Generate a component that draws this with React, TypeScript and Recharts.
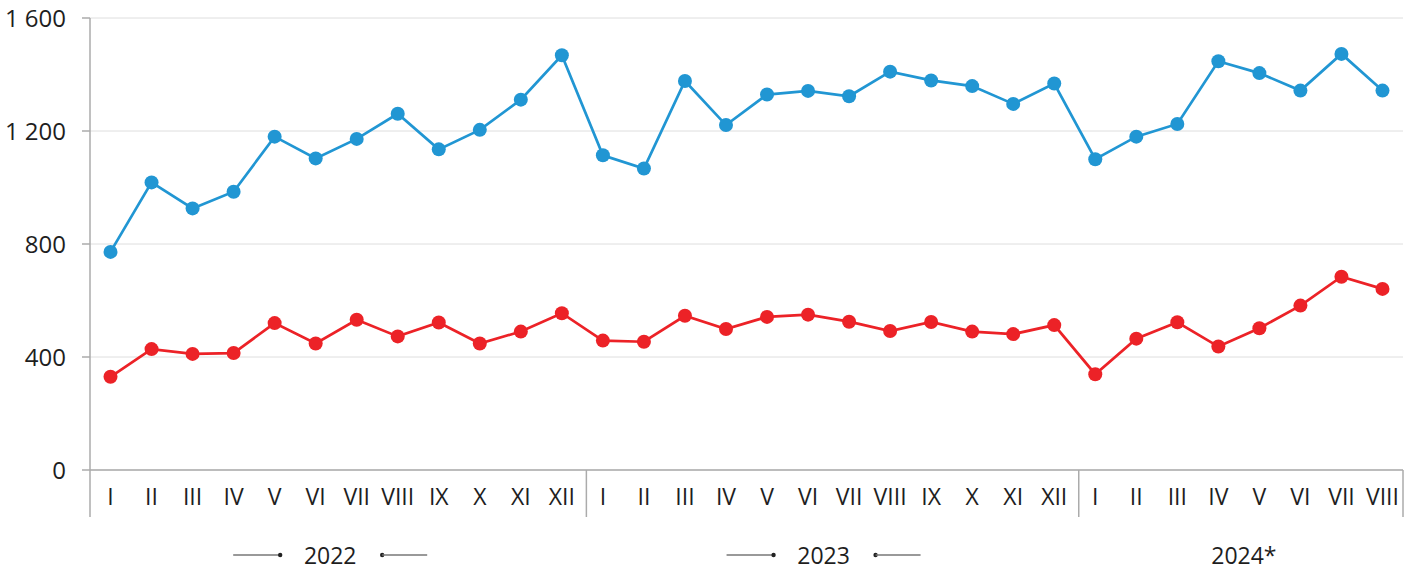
import React from 'react';
import { LineChart, Line, XAxis, YAxis, CartesianGrid } from 'recharts';

const years = ['2022', '2023', '2024*'];
const monthsPerYear = [12, 12, 8];
const yearDecorated = [true, true, false];
const romanMonths = ['I', 'II', 'III', 'IV', 'V', 'VI', 'VII', 'VIII', 'IX', 'X', 'XI', 'XII'];

const blueValues = [
  772, 1018, 926, 985, 1180, 1103, 1172, 1261, 1135, 1204, 1311, 1468,
  1114, 1067, 1377, 1221, 1329, 1342, 1323, 1410, 1379, 1359, 1296, 1368,
  1100, 1180, 1225, 1447, 1405, 1343, 1473, 1343,
];
const redValues = [
  330, 428, 411, 414, 520, 448, 532, 473, 522, 448, 490, 555,
  458, 454, 546, 499, 542, 550, 525, 492, 524, 490, 481, 513,
  339, 465, 523, 437, 502, 582, 684, 641,
];
const yTicks = [0, 400, 800, 1200, 1600];

const BLUE = '#2196D3';
const RED = '#EC2227';
const AXIS = '#ababab';
const TEXT = '#1e1e1e';

type Row = { key: string; month: string; yearIdx: number; blue: number; red: number };
const rows: Row[] = [];
const groupStart: number[] = [];
{
  let k = 0;
  years.forEach((y, yi) => {
    groupStart.push(k);
    for (let m = 0; m < monthsPerYear[yi]; m++) {
      rows.push({ key: `${y}-${m}`, month: romanMonths[m], yearIdx: yi, blue: blueValues[k], red: redValues[k] });
      k++;
    }
  });
}

const W = 1414;
const H = 571;
const M = { top: 18, right: 11, left: 0, bottom: 0 };
const Y_W = 90;
const PLOT_W = W - M.left - M.right - Y_W;
const BW = PLOT_W / rows.length;
const MONTH_H = 47;
const YEAR_H = 54;
const YEAR_SHIFT = [-6, -5, 5];

const fmt = (v: number) => (v >= 1000 ? `${Math.floor(v / 1000)} ${String(v % 1000).padStart(3, '0')}` : String(v));

const MonthTick = (props: any) => {
  const { x, y, payload } = props;
  const idx = props.index ?? payload.index;
  const row = rows[idx];
  if (!row) return null;
  const lines: React.ReactNode[] = [];
  if (groupStart.includes(idx)) {
    const lx = idx === 0 ? x - BW / 2 : x - BW / 2 + 4;
    lines.push(<line key="l" x1={lx} x2={lx} y1={y} y2={y + MONTH_H} stroke={AXIS} strokeWidth={1.5} />);
  }
  if (idx === rows.length - 1) {
    const rx = x + BW / 2;
    lines.push(<line key="r" x1={rx} x2={rx} y1={y} y2={y + MONTH_H} stroke={AXIS} strokeWidth={1.5} />);
  }
  return (
    <g>
      {lines}
      <text x={x} y={y + 35} textAnchor="middle" fontSize={23} fill={TEXT}>
        {row.month}
      </text>
    </g>
  );
};

const YearTick = (props: any) => {
  const { x, y, payload } = props;
  const idx = props.index ?? payload.index;
  const gi = groupStart.indexOf(idx);
  if (gi < 0) return null;
  const n = monthsPerYear[gi];
  const cx = x + (n / 2 - 0.5) * BW + YEAR_SHIFT[gi];
  const ty = y + 47;
  const ly = y + 38;
  return (
    <g>
      {yearDecorated[gi] && (
        <g>
          <line x1={cx - 97} x2={cx - 50} y1={ly} y2={ly} stroke="#777" strokeWidth={1.5} />
          <circle cx={cx - 50} cy={ly} r={2.2} fill="#222" />
          <circle cx={cx + 52} cy={ly} r={2.2} fill="#222" />
          <line x1={cx + 52} x2={cx + 97} y1={ly} y2={ly} stroke="#777" strokeWidth={1.5} />
        </g>
      )}
      <text x={cx} y={ty} textAnchor="middle" fontSize={23} fill={TEXT}>
        {years[gi]}
      </text>
    </g>
  );
};

export default function App() {
  return (
    <div style={{ position: 'absolute', left: 0, top: 0, fontFamily: '"Open Sans", sans-serif', background: '#fff' }}>
      <LineChart width={W} height={H} data={rows} margin={M}>
        <CartesianGrid horizontal vertical={false} stroke="#dedede" strokeWidth={1} />
        <XAxis
          xAxisId="m"
          dataKey="key"
          type="category"
          scale="band"
          interval={0}
          height={MONTH_H}
          axisLine={{ stroke: AXIS, strokeWidth: 1.5 }}
          tickLine={false}
          tickSize={0}
          tickMargin={0}
          tick={<MonthTick />}
        />
        <XAxis
          xAxisId="y"
          dataKey="key"
          type="category"
          scale="band"
          interval={0}
          height={YEAR_H}
          axisLine={false}
          tickLine={false}
          tickSize={0}
          tickMargin={0}
          tick={<YearTick />}
        />
        <YAxis
          width={Y_W}
          domain={[0, 1600]}
          ticks={yTicks}
          interval={0}
          tickFormatter={fmt}
          axisLine={{ stroke: AXIS, strokeWidth: 1.5 }}
          tickLine={{ stroke: AXIS, strokeWidth: 1.5 }}
          tickSize={8}
          tickMargin={16}
          tick={{ fill: TEXT, fontSize: 24 }}
        />
        <Line
          xAxisId="m"
          dataKey="blue"
          stroke={BLUE}
          strokeWidth={2.7}
          dot={{ r: 7, fill: BLUE, stroke: BLUE, strokeWidth: 0 }}
          activeDot={false}
          isAnimationActive={false}
        />
        <Line
          xAxisId="m"
          dataKey="red"
          stroke={RED}
          strokeWidth={2.7}
          dot={{ r: 7, fill: RED, stroke: RED, strokeWidth: 0 }}
          activeDot={false}
          isAnimationActive={false}
        />
      </LineChart>
    </div>
  );
}
